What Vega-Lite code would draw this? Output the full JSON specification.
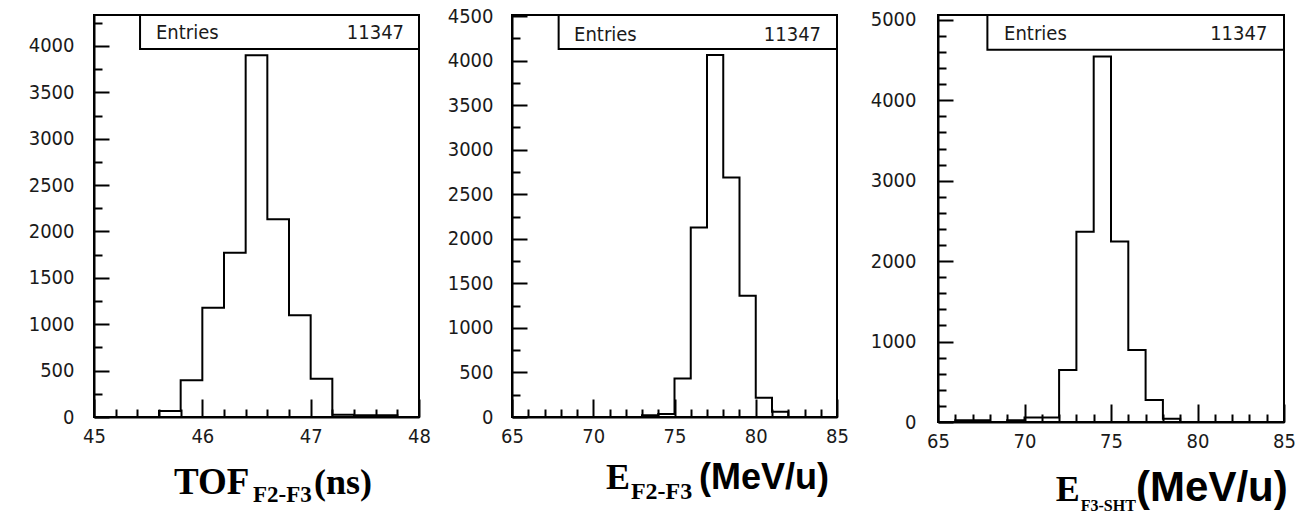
{
  "$schema": "https://vega.github.io/schema/vega-lite/v6.json",
  "background": "white",
  "padding": {"left": 27, "top": 5, "right": 5, "bottom": 5},
  "bounds": "flush",
  "spacing": 93,
  "config": {
    "view": {"stroke": "black", "strokeWidth": 2},
    "axis": {
      "title": null,
      "grid": false,
      "domainColor": "black",
      "domainWidth": 2,
      "tickColor": "black",
      "tickWidth": 2,
      "tickCount": 200,
      "labelFont": "DejaVu Sans Condensed, Liberation Sans Narrow, DejaVu Sans",
      "labelFontSize": 20,
      "labelColor": "#1a1a1a",
      "labelOverlap": false,
      "labelFlush": false
    },
    "text": {"font": "DejaVu Sans Condensed, Liberation Sans Narrow, DejaVu Sans", "fontSize": 20, "color": "#1a1a1a", "baseline": "alphabetic"}
  },
  "hconcat": [
    {
      "width": 325,
      "height": 402,
      "layer": [
        {
          "data": {"values": [
            {"x0": 45.0, "count": 0}, {"x0": 45.2, "count": 0}, {"x0": 45.4, "count": 0},
            {"x0": 45.6, "count": 65}, {"x0": 45.8, "count": 395}, {"x0": 46.0, "count": 1179},
            {"x0": 46.2, "count": 1772}, {"x0": 46.4, "count": 3899}, {"x0": 46.6, "count": 2131},
            {"x0": 46.8, "count": 1096}, {"x0": 47.0, "count": 413}, {"x0": 47.2, "count": 25},
            {"x0": 47.4, "count": 20}, {"x0": 47.6, "count": 20}, {"x0": 47.8, "count": 0}
          ]},
          "mark": {"type": "line", "interpolate": "step-after", "color": "black", "strokeWidth": 2},
          "encoding": {
            "x": {
              "field": "x0", "type": "quantitative",
              "scale": {"domain": [45, 48], "nice": false, "zero": false},
              "axis": {
                "title": null,
                "labelOverlap": false,
                "tickCount": 200,
                "values": [45, 45.2, 45.4, 45.6, 45.8, 46, 46.2, 46.4, 46.6, 46.8, 47, 47.2, 47.4, 47.6, 47.8, 48],
                "labelExpr": "datum.value % 1 === 0 ? format(datum.value, 'd') : ''",
                "tickSize": {"condition": {"test": "datum.value % 1 === 0", "value": -18}, "value": -8},
                "labelPadding": 27
              }
            },
            "y": {
              "field": "count", "type": "quantitative",
              "scale": {"domain": [0, 4334], "nice": false},
              "axis": {
                "title": null,
                "labelOverlap": false,
                "tickCount": 200,
                "values": [0, 250, 500, 750, 1000, 1250, 1500, 1750, 2000, 2250, 2500, 2750, 3000, 3250, 3500, 3750, 4000, 4250],
                "labelExpr": "datum.value % 500 === 0 ? format(datum.value, 'd') : ''",
                "tickSize": {"condition": {"test": "datum.value % 500 === 0", "value": -15}, "value": -8},
                "labelPadding": 35
              }
            }
          }
        },
        {
          "data": {"values": [{"label": "Entries", "entries": 11347}]},
          "layer": [
            {
              "mark": {"type": "rect", "fill": "white", "stroke": "black", "strokeWidth": 2},
              "encoding": {
                "x": {"datum": 45.425, "type": "quantitative"}, "x2": {"datum": 48},
                "y": {"datum": 3968, "type": "quantitative"}, "y2": {"datum": 4334}
              }
            },
            {
              "mark": {"type": "text", "align": "left"},
              "encoding": {
                "x": {"datum": 45.572, "type": "quantitative"},
                "y": {"datum": 4072, "type": "quantitative"},
                "text": {"field": "label"}
              }
            },
            {
              "mark": {"type": "text", "align": "right"},
              "encoding": {
                "x": {"datum": 47.862, "type": "quantitative"},
                "y": {"datum": 4072, "type": "quantitative"},
                "text": {"field": "entries", "format": "d"}
              }
            }
          ]
        },
        {
          "data": {"values": [{"main": "TOF", "sub": "F2-F3", "unit": "(ns)"}]},
          "layer": [
            {
              "mark": {"type": "text", "align": "left", "font": "Liberation Serif", "fontWeight": "bold", "fontSize": 37, "color": "black"},
              "encoding": {"x": {"datum": 45.738, "type": "quantitative"}, "y": {"datum": -830, "type": "quantitative"}, "text": {"field": "main"}}
            },
            {
              "mark": {"type": "text", "align": "left", "font": "Liberation Serif", "fontWeight": "bold", "fontSize": 23, "color": "black"},
              "encoding": {"x": {"datum": 46.467, "type": "quantitative"}, "y": {"datum": -916, "type": "quantitative"}, "text": {"field": "sub"}}
            },
            {
              "mark": {"type": "text", "align": "left", "font": "Liberation Serif", "fontWeight": "bold", "fontSize": 36, "color": "black"},
              "encoding": {"x": {"datum": 47.031, "type": "quantitative"}, "y": {"datum": -830, "type": "quantitative"}, "text": {"field": "unit"}}
            }
          ]
        }
      ]
    },
    {
      "bounds": "flush",
      "spacing": 101,
      "hconcat": [
        {
          "width": 325,
          "height": 402,
          "layer": [
            {
              "data": {"values": [
                {"x0": 65, "count": 0}, {"x0": 66, "count": 0}, {"x0": 67, "count": 0}, {"x0": 68, "count": 0},
                {"x0": 69, "count": 0}, {"x0": 70, "count": 0}, {"x0": 71, "count": 0}, {"x0": 72, "count": 0},
                {"x0": 73, "count": 19}, {"x0": 74, "count": 34}, {"x0": 75, "count": 431}, {"x0": 76, "count": 2127},
                {"x0": 77, "count": 4064}, {"x0": 78, "count": 2689}, {"x0": 79, "count": 1360}, {"x0": 80, "count": 217},
                {"x0": 81, "count": 58}, {"x0": 82, "count": 0}, {"x0": 83, "count": 0}, {"x0": 84, "count": 0}
              ]},
              "mark": {"type": "line", "interpolate": "step-after", "color": "black", "strokeWidth": 2},
              "encoding": {
                "x": {
                  "field": "x0", "type": "quantitative",
                  "scale": {"domain": [65, 85], "nice": false, "zero": false},
                  "axis": {
                    "title": null,
                    "labelOverlap": false,
                    "tickCount": 200,
                    "values": [65, 66, 67, 68, 69, 70, 71, 72, 73, 74, 75, 76, 77, 78, 79, 80, 81, 82, 83, 84, 85],
                    "labelExpr": "datum.value % 5 === 0 ? format(datum.value, 'd') : ''",
                    "tickSize": {"condition": {"test": "datum.value % 5 === 0", "value": -18}, "value": -8},
                    "labelPadding": 27
                  }
                },
                "y": {
                  "field": "count", "type": "quantitative",
                  "scale": {"domain": [0, 4512], "nice": false},
                  "axis": {
                    "title": null,
                    "labelOverlap": false,
                    "tickCount": 200,
                    "values": [0, 250, 500, 750, 1000, 1250, 1500, 1750, 2000, 2250, 2500, 2750, 3000, 3250, 3500, 3750, 4000, 4250, 4500],
                    "labelExpr": "datum.value % 500 === 0 ? format(datum.value, 'd') : ''",
                    "tickSize": {"condition": {"test": "datum.value % 500 === 0", "value": -15}, "value": -8},
                    "labelPadding": 34
                  }
                }
              }
            },
            {
              "data": {"values": [{"label": "Entries", "entries": 11347}]},
              "layer": [
                {
                  "mark": {"type": "rect", "fill": "white", "stroke": "black", "strokeWidth": 2},
                  "encoding": {
                    "x": {"datum": 67.87, "type": "quantitative"}, "x2": {"datum": 85},
                    "y": {"datum": 4131, "type": "quantitative"}, "y2": {"datum": 4512}
                  }
                },
                {
                  "mark": {"type": "text", "align": "left"},
                  "encoding": {
                    "x": {"datum": 68.82, "type": "quantitative"},
                    "y": {"datum": 4217, "type": "quantitative"},
                    "text": {"field": "label"}
                  }
                },
                {
                  "mark": {"type": "text", "align": "right"},
                  "encoding": {
                    "x": {"datum": 84.02, "type": "quantitative"},
                    "y": {"datum": 4217, "type": "quantitative"},
                    "text": {"field": "entries", "format": "d"}
                  }
                }
              ]
            },
            {
              "data": {"values": [{"main": "E", "sub": "F2-F3", "unit": "(MeV/u)"}]},
              "layer": [
                {
                  "mark": {"type": "text", "align": "left", "font": "Liberation Serif", "fontWeight": "bold", "fontSize": 36, "color": "black"},
                  "encoding": {"x": {"datum": 70.785, "type": "quantitative"}, "y": {"datum": -809, "type": "quantitative"}, "text": {"field": "main"}}
                },
                {
                  "mark": {"type": "text", "align": "left", "font": "Liberation Serif", "fontWeight": "bold", "fontSize": 24, "color": "black"},
                  "encoding": {"x": {"datum": 72.32, "type": "quantitative"}, "y": {"datum": -921, "type": "quantitative"}, "text": {"field": "sub"}}
                },
                {
                  "mark": {"type": "text", "align": "left", "font": "Liberation Sans", "fontWeight": "bold", "fontSize": 36, "color": "black"},
                  "encoding": {"x": {"datum": 76.51, "type": "quantitative"}, "y": {"datum": -809, "type": "quantitative"}, "text": {"field": "unit"}}
                }
              ]
            }
          ]
        },
        {
          "width": 346,
          "height": 407,
          "layer": [
            {
              "data": {"values": [
                {"x0": 65, "count": 0}, {"x0": 66, "count": 21}, {"x0": 67, "count": 21}, {"x0": 68, "count": 0},
                {"x0": 69, "count": 21}, {"x0": 70, "count": 55}, {"x0": 71, "count": 55}, {"x0": 72, "count": 647},
                {"x0": 73, "count": 2365}, {"x0": 74, "count": 4544}, {"x0": 75, "count": 2245}, {"x0": 76, "count": 896},
                {"x0": 77, "count": 275}, {"x0": 78, "count": 41}, {"x0": 79, "count": 0}, {"x0": 80, "count": 0},
                {"x0": 81, "count": 0}, {"x0": 82, "count": 0}, {"x0": 83, "count": 0}, {"x0": 84, "count": 0}
              ]},
              "mark": {"type": "line", "interpolate": "step-after", "color": "black", "strokeWidth": 2},
              "encoding": {
                "x": {
                  "field": "x0", "type": "quantitative",
                  "scale": {"domain": [65, 85], "nice": false, "zero": false},
                  "axis": {
                    "title": null,
                    "labelOverlap": false,
                    "tickCount": 200,
                    "values": [65, 66, 67, 68, 69, 70, 71, 72, 73, 74, 75, 76, 77, 78, 79, 80, 81, 82, 83, 84, 85],
                    "labelExpr": "datum.value % 5 === 0 ? format(datum.value, 'd') : ''",
                    "tickSize": {"condition": {"test": "datum.value % 5 === 0", "value": -18}, "value": -8},
                    "labelPadding": 27
                  }
                },
                "y": {
                  "field": "count", "type": "quantitative",
                  "scale": {"domain": [0, 5060], "nice": false},
                  "axis": {
                    "title": null,
                    "labelOverlap": false,
                    "tickCount": 200,
                    "values": [0, 200, 400, 600, 800, 1000, 1200, 1400, 1600, 1800, 2000, 2200, 2400, 2600, 2800, 3000, 3200, 3400, 3600, 3800, 4000, 4200, 4400, 4600, 4800, 5000],
                    "labelExpr": "datum.value % 1000 === 0 ? format(datum.value, 'd') : ''",
                    "tickSize": {"condition": {"test": "datum.value % 1000 === 0", "value": -15}, "value": -8},
                    "labelPadding": 37
                  }
                }
              }
            },
            {
              "data": {"values": [{"label": "Entries", "entries": 11347}]},
              "layer": [
                {
                  "mark": {"type": "rect", "fill": "white", "stroke": "black", "strokeWidth": 2},
                  "encoding": {
                    "x": {"datum": 67.855, "type": "quantitative"}, "x2": {"datum": 85},
                    "y": {"datum": 4627, "type": "quantitative"}, "y2": {"datum": 5060}
                  }
                },
                {
                  "mark": {"type": "text", "align": "left"},
                  "encoding": {
                    "x": {"datum": 68.82, "type": "quantitative"},
                    "y": {"datum": 4743, "type": "quantitative"},
                    "text": {"field": "label"}
                  }
                },
                {
                  "mark": {"type": "text", "align": "right"},
                  "encoding": {
                    "x": {"datum": 84.04, "type": "quantitative"},
                    "y": {"datum": 4743, "type": "quantitative"},
                    "text": {"field": "entries", "format": "d"}
                  }
                }
              ]
            },
            {
              "data": {"values": [{"main": "E", "sub": "F3-SHT", "unit": "(MeV/u)"}]},
              "layer": [
                {
                  "mark": {"type": "text", "align": "left", "font": "Liberation Serif", "fontWeight": "bold", "fontSize": 36, "color": "black"},
                  "encoding": {"x": {"datum": 71.80, "type": "quantitative"}, "y": {"datum": -983, "type": "quantitative"}, "text": {"field": "main"}}
                },
                {
                  "mark": {"type": "text", "align": "left", "font": "Liberation Serif", "fontWeight": "bold", "fontSize": 16, "color": "black"},
                  "encoding": {"x": {"datum": 73.25, "type": "quantitative"}, "y": {"datum": -1108, "type": "quantitative"}, "text": {"field": "sub"}}
                },
                {
                  "mark": {"type": "text", "align": "left", "font": "Liberation Sans", "fontWeight": "bold", "fontSize": 42, "color": "black"},
                  "encoding": {"x": {"datum": 76.45, "type": "quantitative"}, "y": {"datum": -983, "type": "quantitative"}, "text": {"field": "unit"}}
                }
              ]
            }
          ]
        }
      ]
    }
  ]
}
